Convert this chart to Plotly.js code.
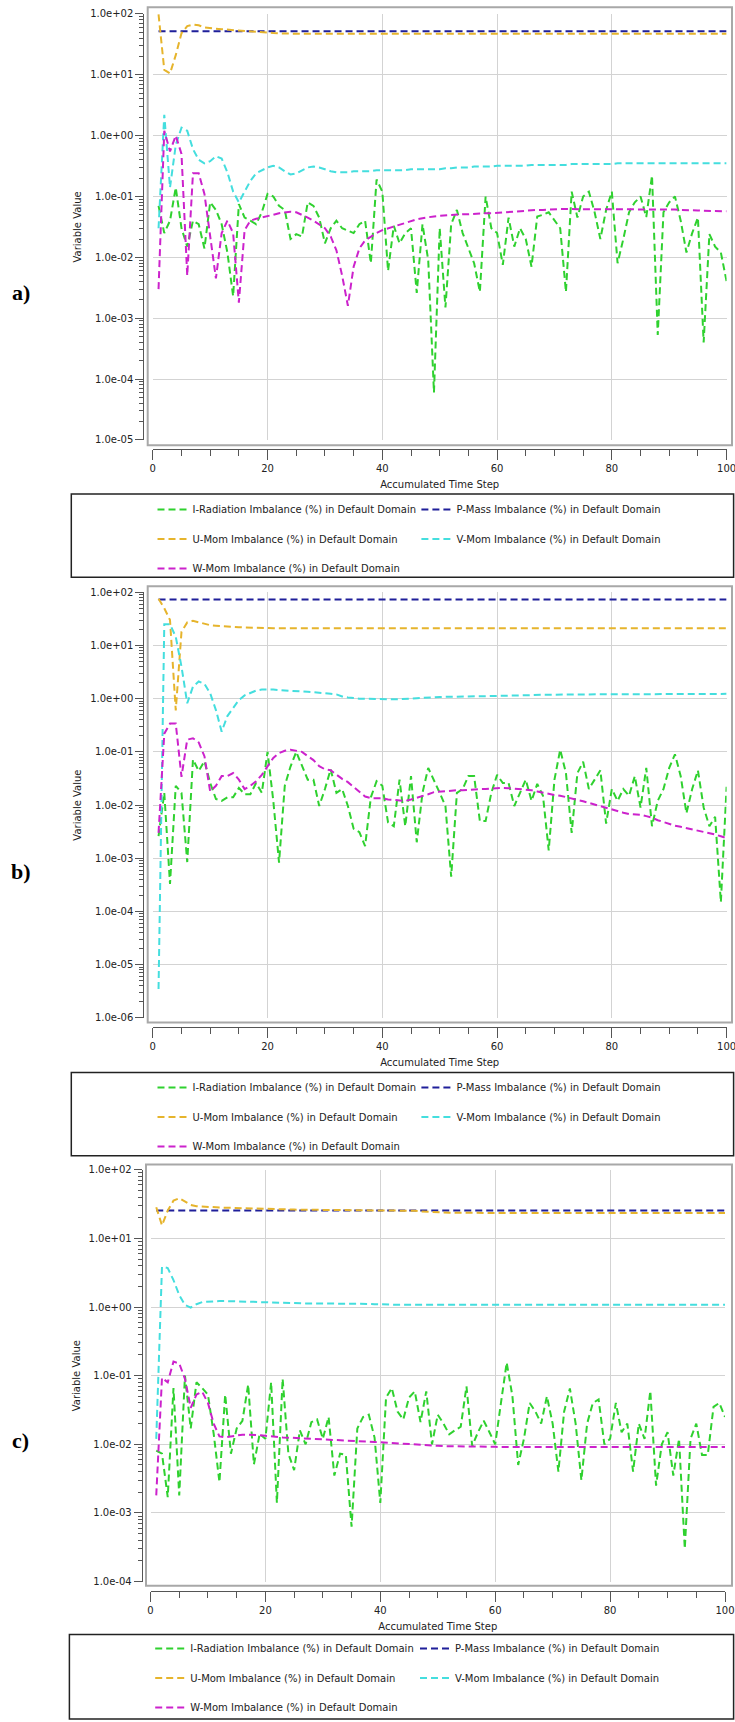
<!DOCTYPE html>
<html>
<head>
<meta charset="utf-8">
<script src="https://cdn.plot.ly/plotly-3.0.1.min.js"></script>
<style>
html,body{margin:0;padding:0;background:#ffffff;}
#chart{width:735px;height:1722px;}
</style>
</head>
<body>
<div id="chart"></div>
<script>
// ---------------- DATA ----------------
const steps = [1,2,3,4,5,6,7,8,9,10,11,12,13,14,15,16,17,18,19,20,
  21,22,23,24,25,26,27,28,29,30,31,32,33,34,35,36,37,38,39,40,
  41,42,43,44,45,46,47,48,49,50,51,52,53,54,55,56,57,58,59,60,
  61,62,63,64,65,66,67,68,69,70,71,72,73,74,75,76,77,78,79,80,
  81,82,83,84,85,86,87,88,89,90,91,92,93,94,95,96,97,98,99,100];

const seriesNames = [
  'I-Radiation Imbalance (%) in Default Domain',
  'P-Mass Imbalance (%) in Default Domain',
  'U-Mom Imbalance (%) in Default Domain',
  'V-Mom Imbalance (%) in Default Domain',
  'W-Mom Imbalance (%) in Default Domain'
];

// panel a)
const aIRad = [0.07,0.025,0.04,0.14,0.03,0.015,0.04,0.035,0.014,0.08,
  0.06,0.035,0.012,0.0023,0.075,0.045,0.04,0.035,0.055,0.11,
  0.1,0.07,0.06,0.02,0.024,0.022,0.08,0.07,0.045,0.017,
  0.03,0.04,0.03,0.027,0.025,0.035,0.04,0.008,0.19,0.12,
  0.006,0.033,0.017,0.025,0.03,0.0026,0.035,0.009,0.00006,0.03,
  0.0015,0.035,0.06,0.025,0.014,0.008,0.0027,0.1,0.03,0.025,
  0.0075,0.045,0.015,0.03,0.02,0.007,0.047,0.05,0.055,0.04,
  0.03,0.0027,0.12,0.045,0.1,0.12,0.055,0.02,0.06,0.12,
  0.008,0.02,0.055,0.08,0.1,0.046,0.22,0.00053,0.055,0.08,
  0.1,0.04,0.012,0.025,0.045,0.0004,0.024,0.015,0.012,0.004];
const aPMass = [52,52,52,52,52,52,52,52,52,52,52,52,52,52,52,52,52,52,52,52,
  52,52,52,52,52,52,52,52,52,52,52,52,52,52,52,52,52,52,52,52,
  52,52,52,52,52,52,52,52,52,52,52,52,52,52,52,52,52,52,52,52,
  52,52,52,52,52,52,52,52,52,52,52,52,52,52,52,52,52,52,52,52,
  52,52,52,52,52,52,52,52,52,52,52,52,52,52,52,52,52,52,52,52];
const aUMom = [98,12,10.5,21,48,63,67,65,60,58,
  57,56,55,54,53,52,51,50,49.5,49,
  48.5,48,47.5,47,47,47,47,47,47,47,
  47,47,47,47,47,47,47,47,47,47,
  47,47,47,47,47,47,47,47,47,47,
  47,47,47,47,47,47,47,47,47,47,
  47,47,47,47,47,47,47,47,47,47,
  47,47,47,47,47,47,47,47,47,47,
  47,47,47,47,47,47,47,47,47,47,
  47,47,47,47,47,47,47,47,47,47];
const aVMom = [0.03,2.2,0.14,0.7,1.35,1.2,0.6,0.4,0.35,0.38,
  0.46,0.42,0.25,0.12,0.08,0.12,0.18,0.24,0.27,0.3,
  0.32,0.3,0.26,0.23,0.24,0.27,0.3,0.31,0.3,0.28,
  0.26,0.25,0.25,0.25,0.26,0.26,0.26,0.26,0.27,0.27,
  0.27,0.27,0.27,0.27,0.28,0.28,0.28,0.28,0.28,0.28,
  0.29,0.29,0.3,0.3,0.3,0.31,0.31,0.31,0.31,0.32,
  0.32,0.32,0.32,0.32,0.32,0.33,0.33,0.33,0.33,0.33,
  0.33,0.33,0.34,0.34,0.34,0.34,0.34,0.34,0.34,0.34,
  0.35,0.35,0.35,0.35,0.35,0.35,0.35,0.35,0.35,0.35,
  0.35,0.35,0.35,0.35,0.35,0.35,0.35,0.35,0.35,0.35];
const aWMom = [0.003,1.2,0.55,1.0,0.5,0.005,0.24,0.24,0.11,0.02,
  0.0045,0.025,0.04,0.025,0.0018,0.028,0.04,0.043,0.045,0.047,
  0.05,0.053,0.055,0.056,0.055,0.05,0.045,0.04,0.035,0.03,
  0.022,0.013,0.005,0.0016,0.007,0.014,0.019,0.022,0.025,0.028,
  0.03,0.032,0.034,0.036,0.039,0.042,0.044,0.046,0.047,0.048,
  0.049,0.05,0.05,0.051,0.051,0.052,0.052,0.053,0.053,0.054,
  0.055,0.056,0.057,0.058,0.058,0.059,0.06,0.06,0.061,0.061,
  0.062,0.062,0.062,0.062,0.062,0.062,0.062,0.062,0.062,0.062,
  0.062,0.062,0.062,0.062,0.062,0.062,0.062,0.062,0.062,0.061,
  0.061,0.06,0.06,0.059,0.059,0.058,0.058,0.057,0.057,0.057];

// panel b)
const bIRad = [0.0026,0.017,0.00033,0.023,0.017,0.00085,0.072,0.044,0.067,0.026,
  0.013,0.012,0.014,0.014,0.021,0.016,0.016,0.026,0.017,0.1,
  0.012,0.00083,0.023,0.053,0.1,0.053,0.03,0.03,0.0096,0.02,
  0.047,0.017,0.02,0.0096,0.0036,0.0031,0.0017,0.014,0.028,0.023,
  0.0047,0.004,0.03,0.004,0.035,0.002,0.017,0.05,0.03,0.017,
  0.0096,0.00045,0.017,0.02,0.035,0.035,0.005,0.005,0.017,0.037,
  0.026,0.026,0.0096,0.017,0.03,0.012,0.025,0.015,0.0014,0.03,
  0.11,0.04,0.003,0.04,0.065,0.02,0.03,0.045,0.0045,0.02,
  0.012,0.02,0.015,0.035,0.009,0.05,0.004,0.012,0.02,0.05,
  0.09,0.035,0.007,0.02,0.045,0.009,0.004,0.006,0.00015,0.022];
const bPMass = [73,73,73,73,73,73,73,73,73,73,73,73,73,73,73,73,73,73,73,73,
  73,73,73,73,73,73,73,73,73,73,73,73,73,73,73,73,73,73,73,73,
  73,73,73,73,73,73,73,73,73,73,73,73,73,73,73,73,73,73,73,73,
  73,73,73,73,73,73,73,73,73,73,73,73,73,73,73,73,73,73,73,73,
  73,73,73,73,73,73,73,73,73,73,73,73,73,73,73,73,73,73,73,73];
const bUMom = [75,50,30,0.6,18,27,29,27,25,24,
  23.5,23,22.5,22,22,21.8,21.5,21.2,21,21,
  21,21,21,21,21,21,21,21,21,21,21,21,21,21,21,21,21,21,21,21,
  21,21,21,21,21,21,21,21,21,21,21,21,21,21,21,21,21,21,21,21,
  21,21,21,21,21,21,21,21,21,21,21,21,21,21,21,21,21,21,21,21,
  21,21,21,21,21,21,21,21,21,21,21,21,21,21,21,21,21,21,21,21];
const bVMom = [0.0000035,25,25,14.5,4,0.82,1.68,2.1,1.9,1.26,
  0.61,0.24,0.47,0.68,0.94,1.15,1.3,1.42,1.48,1.5,
  1.48,1.45,1.42,1.4,1.38,1.36,1.34,1.32,1.3,1.28,
  1.24,1.2,1.1,1.05,1.02,1.0,1.0,0.99,0.98,0.97,
  0.97,0.97,0.98,0.98,1.0,1.02,1.04,1.05,1.06,1.07,
  1.08,1.09,1.1,1.1,1.1,1.1,1.11,1.11,1.12,1.12,
  1.13,1.14,1.15,1.16,1.17,1.17,1.18,1.18,1.18,1.19,
  1.19,1.19,1.2,1.2,1.2,1.2,1.2,1.21,1.21,1.21,
  1.21,1.21,1.22,1.22,1.22,1.22,1.22,1.22,1.23,1.23,
  1.23,1.23,1.23,1.23,1.23,1.23,1.23,1.23,1.23,1.23];
const bWMom = [0.003,0.22,0.34,0.34,0.034,0.17,0.18,0.15,0.083,0.018,
  0.023,0.035,0.035,0.04,0.03,0.02,0.023,0.028,0.037,0.053,
  0.077,0.095,0.105,0.11,0.105,0.1,0.083,0.07,0.054,0.047,
  0.045,0.037,0.031,0.027,0.022,0.018,0.0145,0.0135,0.0135,0.0135,
  0.0127,0.0124,0.012,0.012,0.0127,0.0136,0.015,0.016,0.0175,0.018,
  0.0183,0.0186,0.019,0.019,0.0195,0.0197,0.02,0.02,0.0205,0.021,
  0.021,0.0208,0.0205,0.02,0.0195,0.019,0.018,0.017,0.0163,0.0155,
  0.015,0.014,0.0132,0.0125,0.0118,0.011,0.01,0.0093,0.0087,0.0081,
  0.0076,0.0072,0.0068,0.0067,0.0066,0.0062,0.0058,0.0052,0.0048,0.0044,
  0.0041,0.0039,0.0037,0.0035,0.0033,0.0032,0.003,0.0028,0.0026,0.0024];

// panel c)
const cIRad = [0.0081,0.0073,0.0017,0.066,0.0018,0.1,0.017,0.08,0.066,0.053,
  0.0142,0.0028,0.053,0.0073,0.017,0.022,0.074,0.0051,0.0142,0.012,
  0.08,0.0014,0.09,0.0073,0.0042,0.016,0.01,0.021,0.023,0.012,
  0.025,0.0035,0.0073,0.007,0.00063,0.017,0.025,0.027,0.0125,0.0014,
  0.048,0.066,0.03,0.023,0.048,0.059,0.021,0.059,0.01,0.027,
  0.02,0.014,0.016,0.018,0.07,0.0094,0.015,0.022,0.015,0.01,
  0.04,0.155,0.05,0.005,0.012,0.04,0.03,0.02,0.05,0.02,
  0.004,0.03,0.065,0.02,0.003,0.02,0.04,0.045,0.01,0.012,
  0.04,0.015,0.02,0.004,0.02,0.012,0.06,0.0025,0.01,0.015,
  0.0035,0.012,0.0003,0.012,0.02,0.007,0.007,0.035,0.04,0.025];
const cPMass = [25.5,25.5,25.5,25.5,25.5,25.5,25.5,25.5,25.5,25.5,25.5,25.5,25.5,25.5,25.5,25.5,25.5,25.5,25.5,25.5,
  25.5,25.5,25.5,25.5,25.5,25.5,25.5,25.5,25.5,25.5,25.5,25.5,25.5,25.5,25.5,25.5,25.5,25.5,25.5,25.5,
  25.5,25.5,25.5,25.5,25.5,25.5,25.5,25.5,25.5,25.5,25.5,25.5,25.5,25.5,25.5,25.5,25.5,25.5,25.5,25.5,
  25.5,25.5,25.5,25.5,25.5,25.5,25.5,25.5,25.5,25.5,25.5,25.5,25.5,25.5,25.5,25.5,25.5,25.5,25.5,25.5,
  25.5,25.5,25.5,25.5,25.5,25.5,25.5,25.5,25.5,25.5,25.5,25.5,25.5,25.5,25.5,25.5,25.5,25.5,25.5,25.5];
const cUMom = [28.5,15.5,25.5,35.5,38.5,34,30.8,29.5,29,28.8,
  28.5,28.2,28,27.8,27.6,27.4,27.2,27.1,27,27,
  26.8,26.6,26.5,26.4,26.3,26.2,26.1,26,26,26,
  25.9,25.8,25.8,25.7,25.7,25.6,25.6,25.6,25.6,25.6,
  25.6,25.6,25.5,25.5,25.4,25.2,24.8,24.4,24.1,23.9,
  23.8,23.7,23.6,23.6,23.5,23.5,23.5,23.5,23.5,23.5,
  23.5,23.5,23.5,23.5,23.5,23.5,23.5,23.5,23.5,23.5,
  23.5,23.5,23.5,23.5,23.5,23.5,23.5,23.5,23.5,23.5,
  23.5,23.5,23.5,23.5,23.5,23.5,23.5,23.5,23.5,23.5,
  23.5,23.5,23.5,23.5,23.5,23.5,23.5,23.5,23.5,23.5];
const cVMom = [0.012,3.86,3.7,2.47,1.5,1.07,0.98,1.1,1.18,1.2,
  1.21,1.22,1.22,1.22,1.22,1.21,1.2,1.19,1.18,1.17,
  1.16,1.16,1.15,1.15,1.14,1.14,1.13,1.13,1.13,1.12,
  1.12,1.12,1.12,1.12,1.12,1.12,1.11,1.11,1.1,1.09,
  1.08,1.08,1.08,1.08,1.08,1.08,1.08,1.08,1.08,1.08,
  1.08,1.08,1.08,1.08,1.08,1.08,1.08,1.08,1.08,1.08,
  1.08,1.08,1.08,1.08,1.08,1.08,1.08,1.08,1.08,1.08,
  1.08,1.08,1.08,1.08,1.08,1.08,1.08,1.08,1.08,1.08,
  1.08,1.08,1.08,1.08,1.08,1.08,1.08,1.08,1.08,1.08,
  1.08,1.08,1.08,1.08,1.08,1.08,1.08,1.08,1.08,1.08];
const cWMom = [0.0018,0.093,0.08,0.16,0.15,0.09,0.034,0.053,0.058,0.04,
  0.02,0.013,0.0126,0.013,0.0135,0.0138,0.0138,0.0138,0.0136,0.0133,
  0.013,0.0128,0.0126,0.0125,0.0124,0.0123,0.0122,0.012,0.012,0.0119,
  0.0117,0.0116,0.0115,0.0113,0.0112,0.0111,0.011,0.0109,0.0108,0.0107,
  0.0106,0.0105,0.0104,0.0103,0.0102,0.0101,0.01,0.0098,0.0096,0.0095,
  0.0094,0.0094,0.0093,0.0093,0.0093,0.0093,0.0092,0.0092,0.0092,0.0092,
  0.0091,0.0091,0.0091,0.0091,0.0091,0.0091,0.0091,0.0091,0.0091,0.0091,
  0.0091,0.0091,0.0091,0.0091,0.0091,0.0091,0.0091,0.0091,0.0091,0.0091,
  0.0091,0.0091,0.0091,0.0091,0.0091,0.0091,0.0091,0.0091,0.0091,0.0091,
  0.0091,0.0091,0.0091,0.0091,0.0091,0.0091,0.0091,0.0091,0.0091,0.0091];

// tick labels
const yTickValsA = [1e-5,1e-4,1e-3,1e-2,1e-1,1e0,1e1,1e2];
const yTickTextA = ['1.0e-05','1.0e-04','1.0e-03','1.0e-02','1.0e-01','1.0e+00','1.0e+01','1.0e+02'];
const yTickValsB = [1e-6,1e-5,1e-4,1e-3,1e-2,1e-1,1e0,1e1,1e2];
const yTickTextB = ['1.0e-06','1.0e-05','1.0e-04','1.0e-03','1.0e-02','1.0e-01','1.0e+00','1.0e+01','1.0e+02'];
const yTickValsC = [1e-4,1e-3,1e-2,1e-1,1e0,1e1,1e2];
const yTickTextC = ['1.0e-04','1.0e-03','1.0e-02','1.0e-01','1.0e+00','1.0e+01','1.0e+02'];
const panelLabels = ['a)','b)','c)'];
const xTitle = 'Accumulated Time Step';
const yTitle = 'Variable Value';

// ---------------- STYLE / GEOMETRY ----------------
const W = 735, H = 1722;
const px = v => v / W;
const py = v => 1 - v / H;
const FONT = 'DejaVu Sans, Verdana, sans-serif';
const seriesColors = ['#2fd12f', '#1f1f9a', '#e6b42c', '#44dede', '#cc22cc'];
const DASH = '7px,4px';
const AX = '#555555';
const GRID = '#d3d3d3';
const TXT = '#222222';

const geo = [
  {x0:152.8, x100:726.6, xLine:451.7, yLine:143.3, yTop:14, yBot:442.7, logMin:-5,
   frame:[147.7, 7.3, 732, 448], box:[71.3, 497.3, 733.6, 581], legTop:498.2, col1:152.5, col2:416.4,
   label:[21, 294]},
  {x0:152.8, x100:726.6, xLine:1033.3, yLine:143.3, yTop:596, yBot:1024.5, logMin:-6,
   frame:[147.7, 590, 732, 1029], box:[71.3, 1079.3, 733.6, 1163.3], legTop:1079.8, col1:152.5, col2:416.4,
   label:[21, 877]},
  {x0:150.5, x100:725, xLine:1601, yLine:141.7, yTop:1177.3, yBot:1591.7, logMin:-4,
   frame:[146, 1172, 732, 1596], box:[69.4, 1645, 733.6, 1730], legTop:1644.5, col1:150.2, col2:415,
   label:[20, 1450]}
];

const panelData = [
  [aIRad, aPMass, aUMom, aVMom, aWMom],
  [bIRad, bPMass, bUMom, bVMom, bWMom],
  [cIRad, cPMass, cUMom, cVMom, cWMom]
];
const tickSets = [[yTickValsA, yTickTextA], [yTickValsB, yTickTextB], [yTickValsC, yTickTextC]];

const traces = [];
const layout = {
  width: W, height: H, autosize: false,
  margin: {l:0, r:0, t:0, b:0, pad:0},
  paper_bgcolor: '#ffffff', plot_bgcolor: '#ffffff',
  font: {family: FONT, size: 10, color: TXT},
  hovermode: false,
  shapes: [], annotations: []
};

const tf = {family: FONT, size: 10, color: TXT};

geo.forEach((g, pi) => {
  const n = pi === 0 ? '' : String(pi + 1);
  const xName = 'x' + n, yName = 'y' + n;
  const legA = pi === 0 ? 'legend' : 'legend' + (2 * pi + 1);
  const legB = 'legend' + (2 * pi + 2);

  panelData[pi].forEach((vals, si) => {
    traces.push({
      type: 'scatter', mode: 'lines',
      x: steps, y: vals,
      xaxis: xName, yaxis: yName,
      name: seriesNames[si],
      line: {color: seriesColors[si], width: 2, dash: DASH},
      legend: (si % 2 === 0) ? legA : legB,
      legendgroup: 'p' + pi + 's' + si,
      showlegend: true,
      hoverinfo: 'skip'
    });
  });

  layout['xaxis' + n] = {
    domain: [px(g.x0), px(g.x100)], range: [0, 100],
    anchor: 'free', position: py(g.xLine),
    showline: true, linecolor: AX, linewidth: 1,
    ticks: 'outside', ticklen: 10, tickwidth: 1, tickcolor: AX,
    tick0: 0, dtick: 20,
    minor: {ticks: 'outside', ticklen: 6, tickwidth: 1, tickcolor: AX, tick0: 0, dtick: 5, showgrid: false},
    showgrid: true, gridcolor: GRID, gridwidth: 1, zeroline: false,
    tickfont: tf, ticklabeloverflow: 'allow',
    title: {text: xTitle, font: tf, standoff: 8},
    fixedrange: true
  };
  layout['yaxis' + n] = {
    type: 'log', domain: [py(g.yBot), py(g.yTop)], range: [g.logMin, 2],
    anchor: 'free', position: px(g.yLine), side: 'left',
    showline: true, linecolor: AX, linewidth: 1,
    ticks: 'outside', ticklen: 8, tickwidth: 1, tickcolor: AX,
    tickmode: 'array', tickvals: tickSets[pi][0], ticktext: tickSets[pi][1],
    minor: {ticks: 'outside', ticklen: 4, tickwidth: 1, tickcolor: AX, dtick: 'D1', showgrid: false},
    showgrid: true, gridcolor: GRID, gridwidth: 1, zeroline: false,
    tickfont: tf, ticklabeloverflow: 'allow',
    title: {text: yTitle, font: tf, standoff: 5},
    fixedrange: true
  };

  const legBase = {
    orientation: 'v', xanchor: 'left', yanchor: 'top',
    y: py(g.legTop), bgcolor: 'rgba(0,0,0,0)', borderwidth: 0,
    font: {family: FONT, size: 10, color: TXT},
    traceorder: 'grouped', tracegroupgap: 10.5, itemwidth: 30
  };
  layout[legA] = Object.assign({}, legBase, {x: px(g.col1)});
  layout[legB] = Object.assign({}, legBase, {x: px(g.col2)});

  // plot frame
  layout.shapes.push({type: 'rect', xref: 'paper', yref: 'paper',
    x0: px(g.frame[0]), x1: px(g.frame[2]), y0: py(g.frame[3]), y1: py(g.frame[1]),
    line: {color: '#a8a8a8', width: 2}, fillcolor: 'rgba(0,0,0,0)', layer: 'below'});
  // legend box
  layout.shapes.push({type: 'rect', xref: 'paper', yref: 'paper',
    x0: px(g.box[0]), x1: px(g.box[2]), y0: py(g.box[3]), y1: py(g.box[1]),
    line: {color: '#222222', width: 1.5}, fillcolor: 'rgba(0,0,0,0)'});
  // panel letter
  layout.annotations.push({xref: 'paper', yref: 'paper', x: px(g.label[0]), y: py(g.label[1]),
    xanchor: 'center', yanchor: 'middle', showarrow: false,
    text: '<b>' + panelLabels[pi] + '</b>',
    font: {family: 'Liberation Serif, Times New Roman, serif', size: 22, color: '#000000'}});
});

Plotly.newPlot('chart', traces, layout, {displayModeBar: false, staticPlot: true});
</script>
</body>
</html>
